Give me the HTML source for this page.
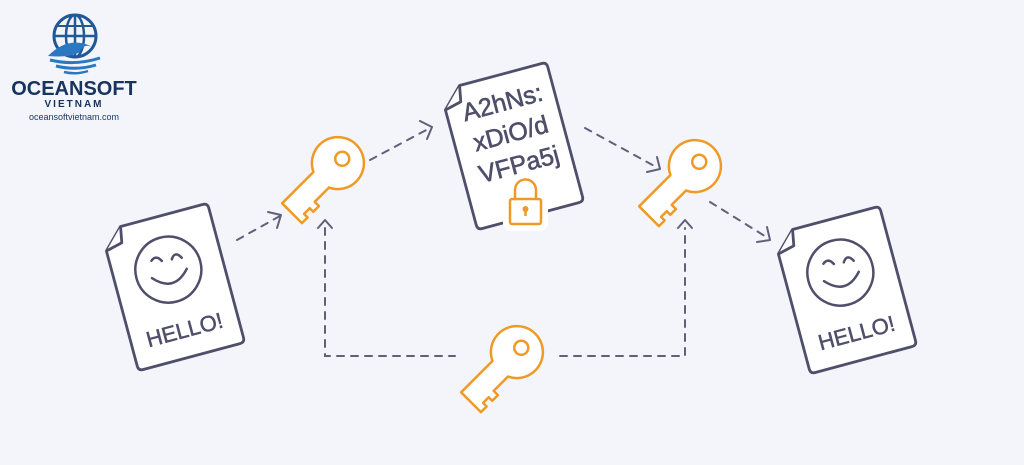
<!DOCTYPE html>
<html><head><meta charset="utf-8"><style>
html,body{margin:0;padding:0;background:#f4f4fb;}
svg{display:block}
text{font-family:"Liberation Sans",sans-serif}
</style></head><body>
<svg width="1024" height="465" viewBox="0 0 1024 465" xmlns="http://www.w3.org/2000/svg">
<defs>
<g id="key">
<path d="M23.7 11 L68 11 L68 -17 L60 -17 L60 -12 L52 -12 L52 -17 L44 -17 L44 -11 L23.7 -11 A26 26 0 1 0 23.7 11 Z" fill="#fff" stroke="#ef9a25" stroke-width="2.5" stroke-linejoin="round"/>
<circle cx="-6" cy="0" r="7" fill="none" stroke="#ef9a25" stroke-width="2.5"/>
</g>
<g id="doc">
<path d="M-35 -72 L50 -72 Q55 -72 55 -67 L55 67 Q55 72 50 72 L-50 72 Q-55 72 -55 67 L-55 -52 Z" fill="#fff" stroke="#4f4f6b" stroke-width="2.8" stroke-linejoin="round"/>
<path d="M-35 -72 L-38 -56 L-55 -52" fill="#fff" stroke="#4f4f6b" stroke-width="2.8" stroke-linejoin="round"/>
</g>
<g id="hello">
<use href="#doc"/>
<circle cx="0" cy="-18" r="33" fill="none" stroke="#4f4f6b" stroke-width="2.5"/>
<path d="M-18 -14 Q0 6 18 -14" fill="none" stroke="#4f4f6b" stroke-width="2.5" stroke-linecap="round"/>
<path d="M-14 -31 Q-8 -36 -4 -28" fill="none" stroke="#4f4f6b" stroke-width="2.5" stroke-linecap="round"/>
<path d="M6 -27 Q11 -35 16 -26" fill="none" stroke="#4f4f6b" stroke-width="2.5" stroke-linecap="round"/>
<text x="0" y="52" text-anchor="middle" font-size="22" fill="#4f4f6b" stroke="#4f4f6b" stroke-width="0.5">HELLO!</text>
</g>
</defs>

<!-- logo -->
<g>
<circle cx="75" cy="36" r="21" fill="none" stroke="#1f5a96" stroke-width="3"/>
<ellipse cx="75" cy="36" rx="9" ry="21" fill="none" stroke="#1f5a96" stroke-width="2.5"/>
<line x1="54" y1="36" x2="96" y2="36" stroke="#1f5a96" stroke-width="2.5"/>
<line x1="75" y1="15" x2="75" y2="57" stroke="#1f5a96" stroke-width="2.5"/>
<line x1="58" y1="26" x2="92" y2="26" stroke="#1f5a96" stroke-width="2"/>
<path d="M48 56 Q70 34 94 48 Q84 42 80 52 Q70 58 48 56Z" fill="#2a78c2"/>
<path d="M50 60 Q75 66 100 58" fill="none" stroke="#2a78c2" stroke-width="3"/>
<path d="M56 66 Q76 71 96 65" fill="none" stroke="#2a78c2" stroke-width="3"/>
<path d="M64 72 Q76 75 88 71" fill="none" stroke="#2a78c2" stroke-width="2.5"/>
<text x="74" y="95" text-anchor="middle" font-size="20" font-weight="bold" fill="#17345e">OCEANSOFT</text>
<text x="74" y="107" text-anchor="middle" font-size="10" font-weight="bold" fill="#17345e" letter-spacing="2">VIETNAM</text>
<text x="74" y="120" text-anchor="middle" font-size="9" fill="#17345e">oceansoftvietnam.com</text>
</g>

<!-- dashed connectors -->
<g fill="none" stroke="#5f6178" stroke-width="2" stroke-dasharray="7 7" stroke-linecap="round">
<path d="M237 240 L280 216"/>
<path d="M370 160 L430 128"/>
<path d="M585 128 L658 168"/>
<path d="M710 202 L768 238"/>
<path d="M325 228 L325 356 L455 356"/>
<path d="M560 356 L685 356 L685 228"/>
</g>
<g fill="none" stroke="#5f6178" stroke-width="2" stroke-linecap="round" stroke-linejoin="round">
<path d="M268 212 L281 215 L277 228"/>
<path d="M420 121 L432 127 L427 139"/>
<path d="M647 172 L660 169 L657 157"/>
<path d="M757 242 L770 240 L767 227"/>
<path d="M318 228 L325 220 L332 228"/>
<path d="M678 228 L685 220 L692 228"/>
</g>

<!-- docs -->
<use href="#hello" transform="translate(173,287) rotate(-15)"/>
<use href="#hello" transform="translate(845,290) rotate(-15)"/>
<g transform="translate(512,146) rotate(-15)">
<use href="#doc"/>
<g font-size="25" fill="#4f4f6b" stroke="#4f4f6b" stroke-width="0.6" text-anchor="middle">
<text x="2" y="-36">A2hNs:</text>
<text x="2" y="-4">xDiO/d</text>
<text x="2" y="28">VFPa5j</text>
</g>
</g>
<!-- lock -->
<g>
<rect x="508" y="198" width="35" height="28" rx="3" fill="#fff" stroke="#fff" stroke-width="10"/>
<path d="M515 199 L515 190 A10.5 10.5 0 0 1 536 190 L536 199" fill="none" stroke="#ef9a25" stroke-width="2.5"/>
<rect x="510" y="199" width="31" height="25" rx="2" fill="#fff" stroke="#ef9a25" stroke-width="2.5"/>
<circle cx="525.5" cy="209" r="3" fill="#ef9a25"/>
<line x1="525.5" y1="210" x2="525.5" y2="216" stroke="#ef9a25" stroke-width="2.5"/>
</g>

<!-- keys -->
<use href="#key" transform="translate(338,163) rotate(135)"/>
<use href="#key" transform="translate(517,352) rotate(135)"/>
<use href="#key" transform="translate(695,166) rotate(135)"/>
</svg>
</body></html>
